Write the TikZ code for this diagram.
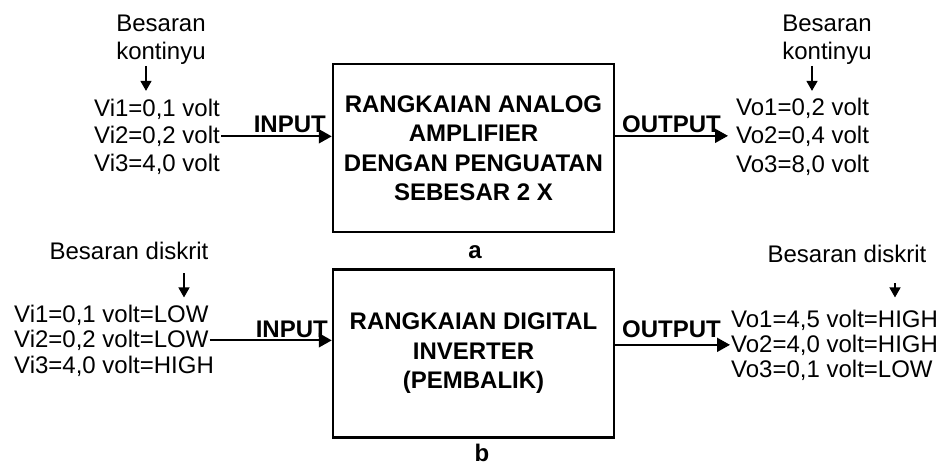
\documentclass[tikz,border=0pt]{standalone}
\usepackage{fontspec}
\setmainfont{Liberation Sans}
\usetikzlibrary{arrows.meta,calc}

\tikzset{
    val/.style={font=\fontsize{24}{28}\selectfont, inner sep=1pt},
    tag/.style={font=\bfseries\fontsize{24}{28}\selectfont, inner sep=0pt},
    blok/.style={draw, line width=2.5pt, minimum width=281pt, minimum height=168pt,
        align=center, font=\bfseries\fontsize{24}{29.5}\selectfont},
    sig/.style={-{Triangle[length=13pt,width=14pt]}, line width=2pt},
    ptr/.style={-{Triangle[length=10pt,width=11pt]}, line width=1.5pt},
}

\begin{document}
\begin{tikzpicture}[x=1pt, y=-1pt]
    \useasboundingbox (0,0) rectangle (943,463);

    % The analog part (a)
    \node[blok] (ampa) at (473.5,148) {RANGKAIAN ANALOG\\AMPLIFIER\\DENGAN PENGUATAN\\SEBESAR 2 X};
    \node[tag, anchor=base] (laba) at (475,258) {a};

    % Input values (continuous)
    \node[val, align=center, anchor=north] (qa1) at (161,14) {Besaran\\kontinyu};
    \node[val, anchor=base west] (vi1) at (93,116) {Vi1=0,1 volt};
    \node[val, anchor=base west] (vi2) at (93,143.5) {Vi2=0,2 volt};
    \node[val, anchor=base west] (vi3) at (93,171) {Vi3=4,0 volt};
    \draw[ptr] ($(qa1.south)+(-15,0)$) -- ++(0,25);

    % Output values (continuous)
    \node[val, align=center, anchor=north] (qa2) at (827,14) {Besaran\\kontinyu};
    \node[val, anchor=base west] (vo1) at (735,115) {Vo1=0,2 volt};
    \node[val, anchor=base west] (vo2) at (735,143) {Vo2=0,4 volt};
    \node[val, anchor=base west] (vo3) at (735,172) {Vo3=8,0 volt};
    \draw[ptr] ($(qa2.south)+(-15,0)$) -- ++(0,25);

    % Signal lines (a)
    \draw[sig] (vi2.east) -- (vi2.east -| ampa.west);
    \node[tag, anchor=base east] (ina) at (326,132) {INPUT};
    \draw[sig, shorten >=7pt] (ampa.east |- vo2.west) -- (vo2.west);
    \node[tag, anchor=base west] (outa) at (622,132) {OUTPUT};

    % The digital part (b)
    \node[blok] (invb) at (473.5,353.5) {RANGKAIAN DIGITAL\\INVERTER\\(PEMBALIK)};
    \node[tag, anchor=base] (labb) at (482,461) {b};

    % Input values (discrete)
    \node[val, anchor=base] (qb1) at (129,259) {Besaran diskrit};
    \node[val, anchor=base west] (wi1) at (13,322) {Vi1=0,1 volt=LOW};
    \node[val, anchor=base west] (wi2) at (13,347.5) {Vi2=0,2 volt=LOW};
    \node[val, anchor=base west] (wi3) at (13,373) {Vi3=4,0 volt=HIGH};
    \draw[ptr] ($(qb1.south)+(55,13)$) -- ++(0,24);

    % Output values (discrete)
    \node[val, anchor=base] (qb2) at (847,262) {Besaran diskrit};
    \node[val, anchor=base west] (wo1) at (730,327) {Vo1=4,5 volt=HIGH};
    \node[val, anchor=base west] (wo2) at (730,352) {Vo2=4,0 volt=HIGH};
    \node[val, anchor=base west] (wo3) at (730,377) {Vo3=0,1 volt=LOW};
    \draw[ptr] ($(qb2.south)+(48,20)$) -- ++(0,14);

    % Signal lines (b)
    \draw[sig] (wi2.east) -- (wi2.east -| invb.west);
    \node[tag, anchor=base east] (inb) at (328,337) {INPUT};
    \draw[sig] (invb.east |- wo2.west) -- (wo2.west);
    \node[tag, anchor=base west] (outb) at (622,337) {OUTPUT};
\end{tikzpicture}
\end{document}
